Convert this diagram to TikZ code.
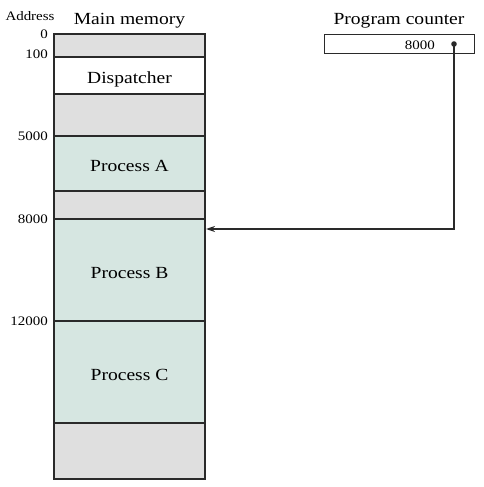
\documentclass[tikz,border=0pt]{standalone}
\usepackage{fontspec}
\setmainfont[FakeStretch=1.15]{Liberation Serif}
\usetikzlibrary{arrows.meta}
\definecolor{memgray}{HTML}{DFDFDF}
\definecolor{memgreen}{HTML}{D6E6E1}
\definecolor{lineclr}{HTML}{2A2A2A}
\tikzset{
  region/.style={draw=lineclr, line width=1.1pt, anchor=north west, inner sep=0pt, outer sep=0pt,
    minimum width=151pt, text height=16.5pt, text depth=0pt, font=\fontsize{17}{20}\selectfont},
  addr/.style={anchor=base east, inner sep=0pt, font=\fontsize{13}{15}\selectfont},
  title/.style={anchor=base, inner sep=0pt, font=\fontsize{17}{20}\selectfont},
}
\begin{document}
\begin{tikzpicture}[x=1pt,y=-1pt]
\useasboundingbox (0,0) rectangle (484,487);
% memory regions
\node[region, fill=memgray,  minimum height=23pt]  (r0)   at (54,34)  {};
\node[region, fill=white,    minimum height=37pt]  (disp) at (54,57)  {Dispatcher};
\node[region, fill=memgray,  minimum height=42pt]  (r2)   at (54,94)  {};
\node[region, fill=memgreen, minimum height=55pt]  (pA)   at (54,136) {Process A};
\node[region, fill=memgray,  minimum height=28pt]  (r4)   at (54,191) {};
\node[region, fill=memgreen, minimum height=102pt] (pB)   at (54,219) {Process B};
\node[region, fill=memgreen, minimum height=102pt] (pC)   at (54,321) {Process C};
\node[region, fill=memgray,  minimum height=56pt]  (r7)   at (54,423) {};
% titles
\node[addr, anchor=base] (addrT) at (30,21) {Address};
\node[title] (memT) at (129.5,25) {Main memory};
\node[title] (pcT) at (399,25) {Program counter};
% address labels
\node[addr] (a0) at (48,39) {0};
\node[addr] (a1) at (48,59) {100};
\node[addr] (a2) at (48,140) {5000};
\node[addr] (a3) at (48,223) {8000};
\node[addr] (a4) at (48,325) {12000};
% program counter
\node[draw=lineclr, line width=1.1pt, anchor=north west, minimum width=150pt, minimum height=19pt, inner sep=0pt] (pc) at (324,34) {};
\node[addr] (pcv) at (435,49) {8000};
\coordinate (dot) at (454,44);
\fill[lineclr] (dot) circle (2.8pt);
\coordinate (tgt) at (206,229);
\draw[lineclr, line width=1.3pt, -{Stealth[length=9pt,width=6pt]}] (dot) |- (tgt);
\end{tikzpicture}
\end{document}
